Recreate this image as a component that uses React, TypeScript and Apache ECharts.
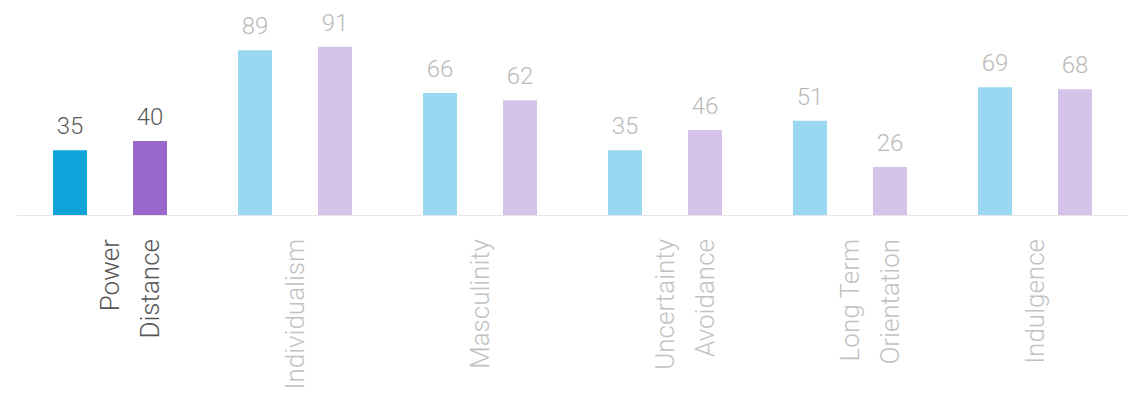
import React, { useEffect, useRef } from "react";
import * as echarts from "echarts";

const categories = [
  "Power\nDistance",
  "Individualism",
  "Masculinity",
  "Uncertainty\nAvoidance",
  "Long Term\nOrientation",
  "Indulgence",
];
const seriesA = [35, 89, 66, 35, 51, 69];
const seriesB = [40, 91, 62, 46, 26, 68];
const highlightIndex = 0;

const colorA = "#0fa3da";
const colorAFaded = "#9ad7f0";
const colorB = "#9a68cb";
const colorBFaded = "#d5c3ea";

export default function App() {
  const ref = useRef<HTMLDivElement>(null);
  useEffect(() => {
    if (!ref.current) return;
    const chart = echarts.init(ref.current, undefined, { renderer: "svg" });
    const valueFont = "Roboto, sans-serif";
    const mk = (vals: number[], c: string, cf: string) =>
      vals.map((v, i) => ({
        value: v,
        itemStyle: { color: i === highlightIndex ? c : cf },
        label: { color: i === highlightIndex ? "#5a5a5a" : "#bababa" },
      }));
    const valueLabel = {
      show: true,
      position: "top",
      distance: 12,
      fontFamily: valueFont,
      fontSize: 24,
      fontWeight: 300,
    };
    chart.setOption({
      animation: false,
      grid: { left: 17.5, right: 5.5, top: 30, bottom: 179, containLabel: false },
      xAxis: {
        type: "category",
        data: categories.map((c, i) => ({
          value: c,
          textStyle: { color: i === highlightIndex ? "#555555" : "#c2c2c2" },
        })),
        axisLine: { show: true, lineStyle: { color: "#e6e6e6", width: 1 } },
        axisTick: { show: false },
        axisLabel: {
          interval: 0,
          rotate: 90,
          margin: 24,
          fontFamily: "Roboto, sans-serif",
          fontWeight: 300,
          fontSize: 26,
          lineHeight: 40,
          formatter: (v: string) => (v.indexOf("\n") >= 0 ? "\n" + v : v),
        },
      },
      yAxis: {
        type: "value",
        min: 0,
        max: 100,
        show: false,
        splitLine: { show: false },
      },
      series: [
        {
          type: "bar",
          data: mk(seriesA, colorA, colorAFaded),
          barWidth: 34,
          barGap: "135.3%",
          label: valueLabel,
        },
        {
          type: "bar",
          data: mk(seriesB, colorB, colorBFaded),
          barWidth: 34,
          label: valueLabel,
        },
      ],
    });
    return () => chart.dispose();
  }, []);
  return (
    <div
      ref={ref}
      style={{ position: "absolute", left: 0, top: 0, width: 1133, height: 394, background: "#ffffff" }}
    />
  );
}
